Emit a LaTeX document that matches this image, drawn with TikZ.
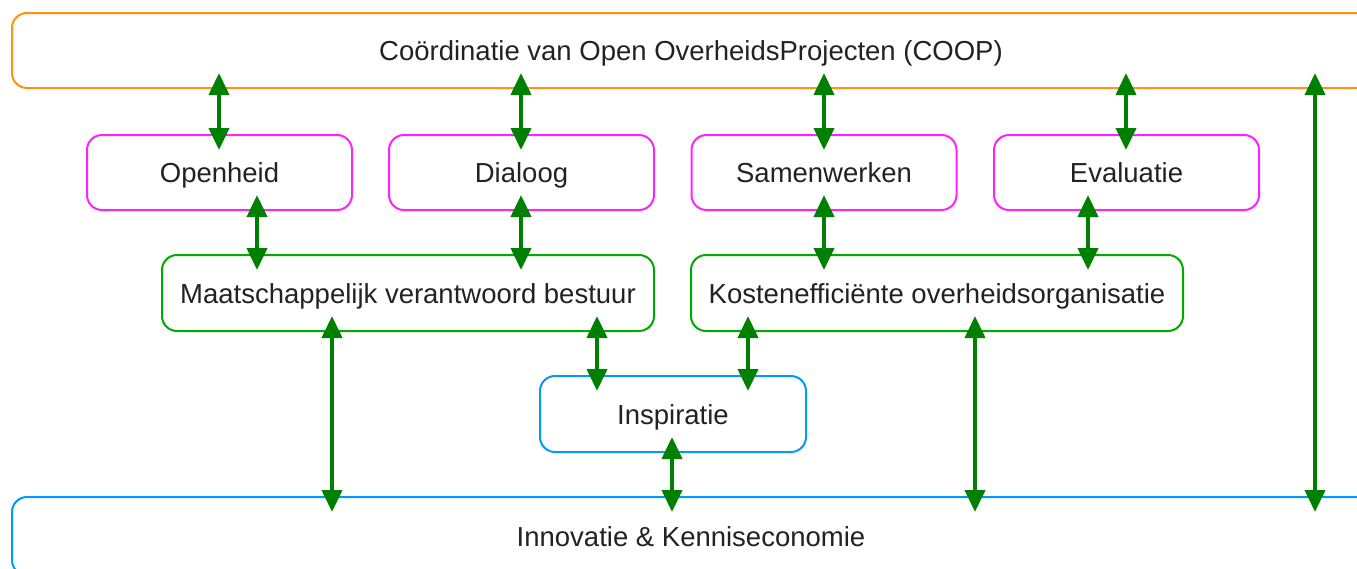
\documentclass[tikz,border=0pt]{standalone}
\usepackage{fontspec}
\setmainfont{Liberation Sans}
\usetikzlibrary{arrows.meta}
\definecolor{coopor}{HTML}{FF9214}
\definecolor{pinkbx}{HTML}{FF22FF}
\definecolor{greenbx}{HTML}{00AA00}
\definecolor{bluebx}{HTML}{0099FF}
\definecolor{arrgreen}{HTML}{008000}
\definecolor{txt}{HTML}{222222}
\tikzset{
  box/.style={draw, line width=2pt, rounded corners=15pt, outer sep=0pt,
    text=txt, font=\fontsize{27.5}{33}\selectfont, inner sep=0pt,
    text height=20pt, text depth=0pt},
  pinkbox/.style={box, draw=pinkbx, minimum width=265pt, minimum height=75pt},
  greenbox/.style={box, draw=greenbx, minimum width=492pt, minimum height=76pt},
  inspbox/.style={box, draw=bluebx, minimum width=266pt, minimum height=76pt},
  biarrow/.style={draw=arrgreen, fill=arrgreen, line width=4pt,
    {Triangle[length=22pt,width=20pt]}-{Triangle[length=22pt,width=20pt]},
    shorten <=-15pt, shorten >=-15pt}
}
\begin{document}
\begin{tikzpicture}[x=1pt,y=-1pt]
\useasboundingbox (0,0) rectangle (1357,568);
\begin{scope}
\clip (0,0) rectangle (1357,568);
\node[box, draw=coopor, minimum width=1358pt, minimum height=75pt] (coop) at (691,50.5) {Coördinatie van Open OverheidsProjecten (COOP)};
\node[box, draw=bluebx, minimum width=1358pt, minimum height=78pt] (inno) at (691,536) {Innovatie \& Kenniseconomie};
\node[pinkbox] (open) at (219.5,172.5) {Openheid};
\node[pinkbox] (dial) at (521.5,172.5) {Dialoog};
\node[pinkbox] (samen) at (824,172.5) {Samenwerken};
\node[pinkbox] (eval) at (1126.5,172.5) {Evaluatie};
\node[greenbox] (maat) at (408,293) {Maatschappelijk verantwoord bestuur};
\node[greenbox] (kost) at (937,293) {Kostenefficiënte overheidsorganisatie};
\node[inspbox] (insp) at (673,414) {Inspiratie};

\draw[biarrow] (coop.south -| 219,0) -- (open.north -| 219,0);
\draw[biarrow] (coop.south -| 521,0) -- (dial.north -| 521,0);
\draw[biarrow] (coop.south -| 824,0) -- (samen.north -| 824,0);
\draw[biarrow] (coop.south -| 1126,0) -- (eval.north -| 1126,0);
\draw[biarrow] (coop.south -| 1315,0) -- (inno.north -| 1315,0);
\draw[biarrow] (open.south -| 257,0) -- (maat.north -| 257,0);
\draw[biarrow] (dial.south -| 521,0) -- (maat.north -| 521,0);
\draw[biarrow] (samen.south -| 824,0) -- (kost.north -| 824,0);
\draw[biarrow] (eval.south -| 1088,0) -- (kost.north -| 1088,0);
\draw[biarrow] (maat.south -| 332,0) -- (inno.north -| 332,0);
\draw[biarrow] (maat.south -| 597,0) -- (insp.north -| 597,0);
\draw[biarrow] (kost.south -| 748,0) -- (insp.north -| 748,0);
\draw[biarrow] (kost.south -| 975,0) -- (inno.north -| 975,0);
\draw[biarrow] (insp.south -| 672,0) -- (inno.north -| 672,0);
\end{scope}
\end{tikzpicture}
\end{document}
